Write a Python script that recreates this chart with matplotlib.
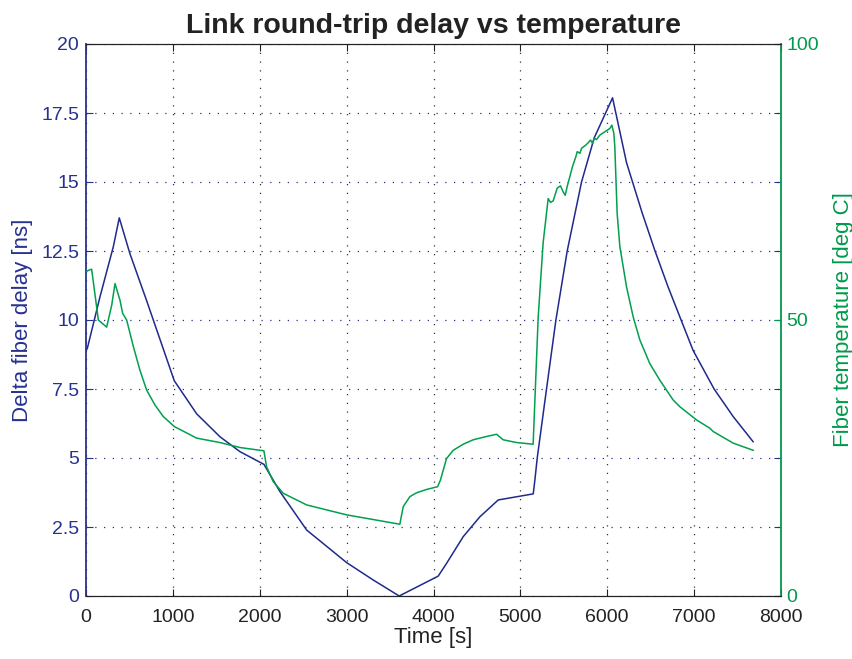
import matplotlib
matplotlib.use("Agg")
import matplotlib.pyplot as plt

# ---------- Colours ----------
BLUE = "#27318f"
BLUE_LINE = "#1f2a8c"
GREEN = "#009a4c"
GREEN_LINE = "#00a04e"
DARK = "#222222"

plt.rcParams["font.family"] = ["Liberation Sans", "DejaVu Sans"]

# ---------- Data ----------
delay_t = [0, 15, 161, 314, 383, 506, 698, 1016, 1274, 1542, 1772, 2048,
           2233, 2540, 3000, 3306, 3605, 4054, 4150, 4342, 4534, 4745,
           5148, 5167, 5194, 5301, 5409, 5539, 5704, 5850, 5981, 6061, 6222,
           6400, 6550, 6700, 6850, 6988, 7230, 7450, 7679]
delay_ns = [8.9, 8.97, 10.84, 12.65, 13.7, 12.4, 10.7, 7.8, 6.6, 5.77, 5.23,
            4.77, 3.78, 2.39, 1.21, 0.58, 0.0, 0.72, 1.18, 2.15, 2.87, 3.48,
            3.70, 4.2, 5.0, 7.5, 10.0, 12.5, 15.0, 16.6, 17.5, 18.05,
            15.7, 13.9, 12.5, 11.2, 10.0, 8.9, 7.5, 6.5, 5.59]

temp_t = [0, 30, 65, 142, 238, 296, 334, 391, 422, 468, 545, 621, 698, 794,
          890, 1016, 1274, 1542, 1772, 2048, 2079, 2156, 2271, 2540, 3000,
          3613, 3633, 3652, 3728, 3805, 3920, 4047, 4080, 4112, 4150, 4227,
          4342, 4457, 4611, 4726, 4802, 4956,
          5147, 5205, 5262, 5320, 5347, 5378, 5424, 5462, 5493, 5516, 5539,
          5570, 5600, 5639, 5654, 5685, 5704, 5754, 5780, 5808, 5831, 5850,
          5877, 5915, 5972, 6030, 6053, 6076, 6087, 6114, 6145, 6222, 6298,
          6375, 6490, 6605, 6759, 6835, 7027, 7181, 7219, 7449, 7679]
temp_c = [58.75, 59.0, 59.2, 50.0, 48.7, 52.7, 56.6, 53.6, 51.2, 50.0, 45.2,
          40.9, 37.3, 34.6, 32.5, 30.7, 28.6, 27.8, 26.9, 26.3, 23.4, 20.7,
          18.6, 16.5, 14.7, 13.0, 14.7, 16.2, 18.0, 18.7, 19.3, 19.8, 21.0,
          22.8, 24.9, 26.4, 27.5, 28.3, 28.9, 29.3, 28.3, 27.8,
          27.5, 50.5, 64.0, 72.0, 71.3, 71.6, 73.9, 74.3,
          73.2, 72.6, 74.2, 76.0, 77.8, 79.6, 80.5, 80.2, 81.1, 81.7, 82.1,
          82.6, 82.0, 82.9, 82.7, 83.5, 84.1, 84.7, 85.3, 83.8, 81.4, 69.3,
          63.3, 56.0, 50.6, 46.4, 42.1, 39.1, 35.5, 34.3, 31.9, 30.4, 29.8,
          27.7, 26.4]

x_ticks = [0, 1000, 2000, 3000, 4000, 5000, 6000, 7000, 8000]
delay_ticks = [0, 2.5, 5, 7.5, 10, 12.5, 15, 17.5, 20]
delay_tick_labels = ["0", "2.5", "5", "7.5", "10", "12.5", "15", "17.5", "20"]
temp_ticks = [0, 50, 100]

# ---------- Figure ----------
fig = plt.figure(figsize=(8.53, 6.59), dpi=100)
fig.patch.set_facecolor("white")
ax = fig.add_axes([86 / 853, 1 - 596 / 659, 695 / 853, 552 / 659])
ax2 = ax.twinx()

ax.plot(delay_t, delay_ns, color=BLUE_LINE, linewidth=1.1, zorder=3)
ax2.plot(temp_t, temp_c, color=GREEN_LINE, linewidth=1.1, zorder=3)

ax.set_xlim(0, 8000)
ax.set_ylim(0, 20)
ax2.set_ylim(0, 100)

ax.set_xticks(x_ticks)
ax.set_xticklabels([str(v) for v in x_ticks], fontsize=14, color=DARK)
ax.set_yticks(delay_ticks)
ax.set_yticklabels(delay_tick_labels, fontsize=14, color=BLUE)
ax2.set_yticks(temp_ticks)
ax2.set_yticklabels([str(v) for v in temp_ticks], fontsize=14, color=GREEN)

# MATLAB-like inward ticks, mirrored
ax.tick_params(axis="x", direction="in", top=True, bottom=True,
               length=5, color=DARK, pad=9)
ax.tick_params(axis="y", direction="in", left=True, right=True,
               length=5, color=BLUE, pad=5)
ax2.tick_params(axis="y", direction="in", length=5, color=GREEN, pad=4)

# Dotted grid
ax.grid(axis="x", color="#333333", linestyle=(0, (1, 6)), linewidth=0.9)
ax.grid(axis="y", color=BLUE, linestyle=(0, (1, 6)), linewidth=0.9)
ax.set_axisbelow(True)

for a in (ax, ax2):
    a.spines["top"].set_color(DARK)
    a.spines["bottom"].set_color(DARK)
ax.spines["left"].set_color(BLUE)
ax.spines["left"].set_linewidth(1.3)
ax2.spines["left"].set_visible(False)
ax2.spines["right"].set_color(GREEN)
ax2.spines["right"].set_linewidth(1.3)
ax.spines["right"].set_visible(False)

ax.set_xlabel("Time [s]", fontsize=16, color=DARK, labelpad=1)
ax.set_ylabel("Delta fiber delay [ns]", fontsize=16, color=BLUE, labelpad=6)
ax2.set_ylabel("Fiber temperature [deg C]", fontsize=16, color=GREEN,
               labelpad=10)
ax.set_title("Link round-trip delay vs temperature", fontsize=20.5,
             fontweight="bold", color=DARK, pad=8)

fig.savefig("out.png", dpi=100, facecolor="white")
